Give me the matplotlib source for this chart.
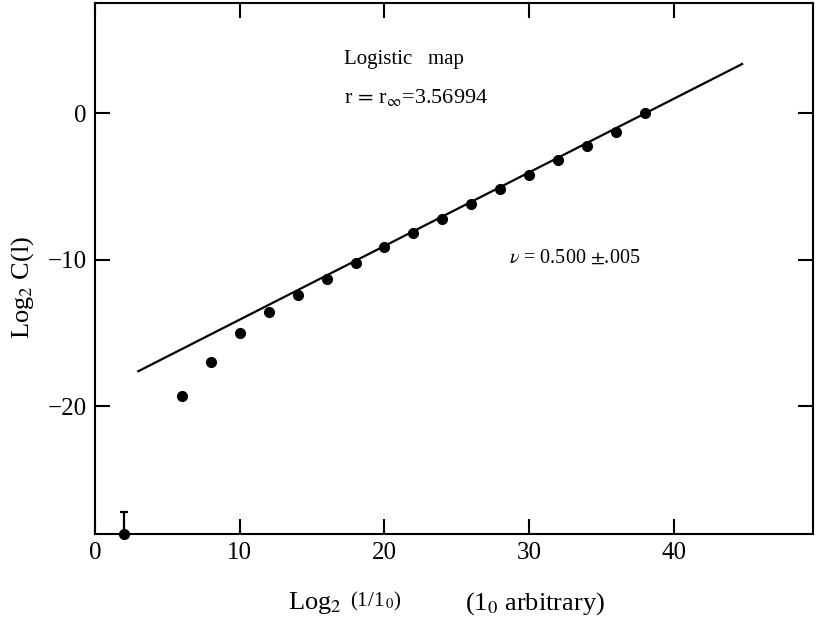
import numpy as np
import matplotlib
matplotlib.use("Agg")
from matplotlib import pyplot as plt

plt.rcParams['font.family'] = ['Liberation Serif', 'DejaVu Serif']
plt.rcParams['mathtext.fontset'] = 'stix'

# data
log_l = [6, 8, 10, 12, 14, 16, 18, 20, 22, 24, 26, 28, 30, 32, 34, 36, 38]
log_c = [-19.3, -17.0, -15.0, -13.55, -12.4, -11.3, -10.25, -9.15, -8.2,
         -7.2, -6.2, -5.2, -4.2, -3.2, -2.25, -1.3, 0.0]

# lowest point sits on the axis, with an upward error bar
low_x = [2]
low_y = [-28.7]
low_err_up = [1.5]

# fitted line, slope nu = 0.5
fit_x = [3.0, 44.7]
fit_y = [-17.6, 3.35]

xticks = [0, 10, 20, 30, 40]
yticks = [0, -10, -20]

fig = plt.figure(figsize=(8.18, 6.25), dpi=100)
ax = fig.add_axes([0.116, 0.1456, 0.878, 0.8494])

ax.plot(fit_x, fit_y, color='black', lw=1.6)
ax.plot(log_l, log_c, 'o', color='black', ms=7)
ax.errorbar(low_x, low_y, yerr=[[0], low_err_up], fmt='o', color='black',
            ms=7, capsize=3, elinewidth=1.6, capthick=1.6, clip_on=False)

ax.set_xlim(0, 49.6)
ax.set_ylim(-28.7, 7.5)
ax.set_xticks(xticks)
ax.set_yticks(yticks)
ax.set_yticklabels(['0', '\u221210', '\u221220'])
ax.tick_params(direction='in', length=11, width=1.5, labelsize=18,
               top=True, right=True, pad=6)
for s in ax.spines.values():
    s.set_linewidth(1.5)

ax.text(0.347, 0.893, 'Logistic   map', transform=ax.transAxes, fontsize=15,
        va='center')
ax.text(0.347, 0.823, r'r$\,=\,$r$_{\infty}$=3.56994', transform=ax.transAxes,
        fontsize=16, va='center')
ax.text(0.577, 0.52, r'$\nu$ = 0.500 $\pm$.005', transform=ax.transAxes,
        fontsize=14.5, va='center')

fig.text(0.027, 0.54, r'Log$_2$ C(l)', rotation=90, fontsize=19,
         ha='center', va='center')
fig.text(0.418, 0.035, r'Log$_2$', fontsize=19, ha='right', va='center')
fig.text(0.428, 0.038, r'(1/1$_{\,0}$)', fontsize=15, ha='left', va='center')
fig.text(0.568, 0.035, r'(1$_0$ arbitrary)', fontsize=19, ha='left',
         va='center')

fig.savefig('out.png', dpi=100)
